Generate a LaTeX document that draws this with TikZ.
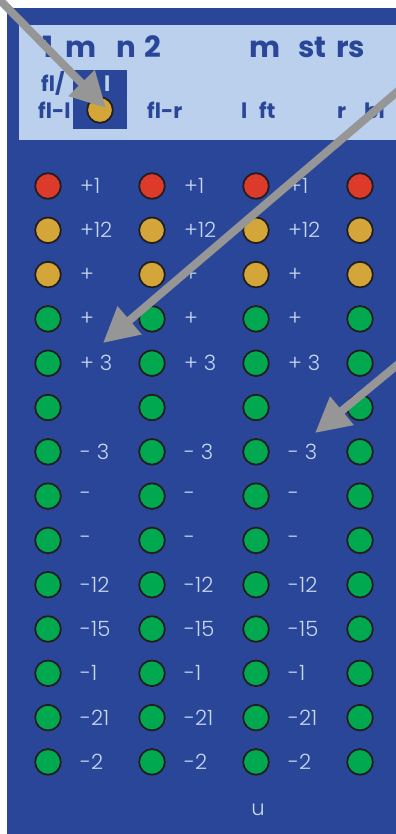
\documentclass[tikz,border=0pt]{standalone}
\usepackage{fontspec}
\setmainfont{Poppins}
\newfontfamily\ledfont{Poppins Light}
\usetikzlibrary{arrows.meta}
\definecolor{panel}{RGB}{42,70,153}
\definecolor{panellight}{RGB}{186,208,236}
\definecolor{ledred}{RGB}{220,58,43}
\definecolor{ledyel}{RGB}{212,166,58}
\definecolor{ledgrn}{RGB}{0,168,80}
\definecolor{ledrim}{RGB}{35,30,30}
\definecolor{lbltext}{RGB}{200,215,240}
\definecolor{pointgray}{RGB}{150,150,150}

\begin{document}
\begin{tikzpicture}[
    x=0.03cm, y=-0.03cm,
    led/.style={circle, draw=ledrim, line width=1.5pt, inner sep=0pt, minimum size=0.77cm, fill=#1},
    ledlbl/.style={anchor=west, inner sep=0pt, text=lbltext, font=\ledfont\fontsize{18}{21}\selectfont},
    hdrbig/.style={anchor=base west, inner sep=0pt, text=panel, font=\fontsize{25}{28}\selectfont\bfseries},
    hdrsmall/.style={anchor=base west, inner sep=0pt, text=panel, font=\fontsize{18}{21}\selectfont\bfseries},
    pointer/.style={-{Triangle[length=1.05cm, width=1.05cm]}, line width=6.8pt, draw=pointgray}
]
    \def\rowgap{44.3}
    \def\colgap{104}
    \useasboundingbox (0,0) rectangle (396,834);
    \clip (0,0) rectangle (396,834);
    % panel and header strip
    \fill[panel] (7,8) rectangle (410,850);
    \fill[panellight] (19,25) rectangle (410,140);
    \node[hdrbig] (hdr1) at (42,57) {1};
    \node[hdrbig] (hdrm) at (65,57) {m};
    \node[hdrbig] (hdrn) at (116,57) {n};
    \node[hdrbig] (hdr2) at (144,57) {2};
    \node[hdrbig] (hdrmm) at (249,57) {m};
    \node[hdrbig] (hdrst) at (298,57) {st};
    \node[hdrbig] (hdrrs) at (336,57) {rs};
    \node[hdrsmall] (hdrfl) at (41,91) {fl/};
    \node[fill=panel, minimum width=1.62cm, minimum height=1.77cm, inner sep=0pt] (selbox) at (100,99.5) {};
    \node[hdrsmall, text=panellight] (hdrl) at (104,91) {l};
    \node[led=ledyel] (hdrled) at (100,110) {};
    \node[hdrsmall] (hdrfll) at (38,118) {fl-l};
    \node[hdrsmall] (hdrflr) at (147,118) {fl-r};
    \node[hdrsmall] (hdrll) at (241,118) {l};
    \node[hdrsmall] (hdrft) at (259,118) {ft};
    \node[hdrsmall] (hdrr) at (337,118) {r};
    \node[hdrsmall] (hdrbi) at (364,118) {bi};
    % LED columns
    \foreach \lbl/\col [count=\r] in {+1/ledred, +12/ledyel, +/ledyel, +/ledgrn, + 3/ledgrn, /ledgrn, - 3/ledgrn,
        -/ledgrn, -/ledgrn, -12/ledgrn, -15/ledgrn, -1/ledgrn, -21/ledgrn, -2/ledgrn} {
        \foreach \c in {1,...,4} {
            \node[led=\col] (led-\c-\r) at ({48+\colgap*(\c-1)}, {186+\rowgap*(\r-1)}) {};
        }
        \foreach \c in {1,2,3} {
            \node[ledlbl] (lbl-\c-\r) at ({80+\colgap*(\c-1)}, {186+\rowgap*(\r-1)}) {\lbl};
        }
    }
    \node[ledlbl, anchor=center] (unit) at (258,810) {u};
    % pointers
    \coordinate (ptrA) at (-12,-12);
    \coordinate (tipA) at (106,108);
    \coordinate (ptrB) at (425,68);
    \coordinate (tipB) at (103,343);
    \coordinate (ptrC) at (425,342);
    \coordinate (tipC) at (315,433);
    \draw[pointer] (ptrA) -- (tipA);
    \draw[pointer] (ptrB) -- (tipB);
    \draw[pointer] (ptrC) -- (tipC);
\end{tikzpicture}
\end{document}
